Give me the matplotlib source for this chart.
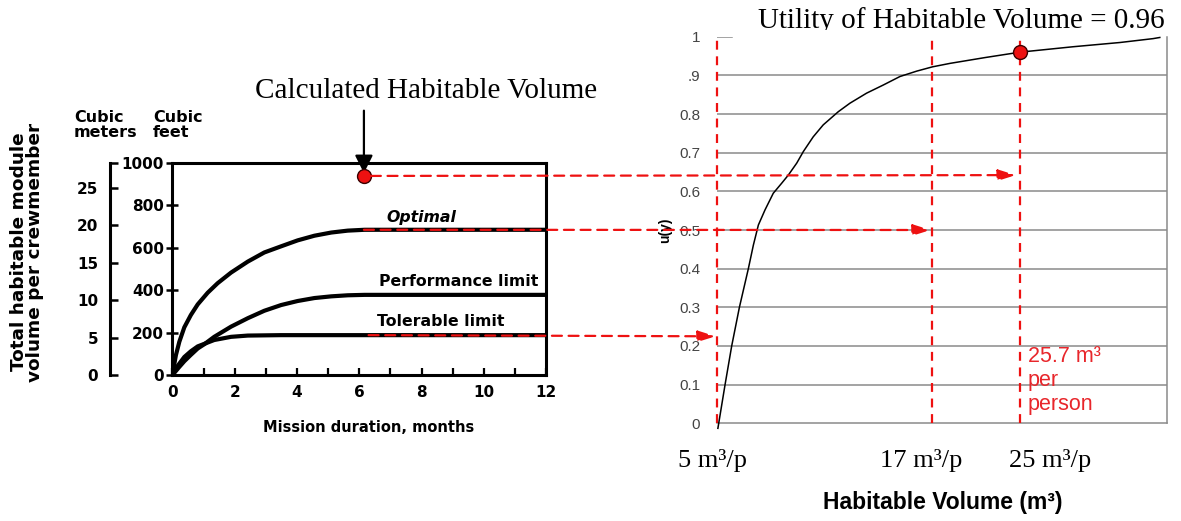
import numpy as np
import matplotlib
matplotlib.use("Agg")
import matplotlib.pyplot as plt
from matplotlib.patches import ConnectionPatch, Rectangle
from matplotlib.ticker import MultipleLocator

# ---------------- data ----------------
# Left panel: habitable volume guidelines (cubic feet per crewmember vs mission months)
opt_months = [0, 0.05, 0.11, 0.22, 0.38, 0.59, 0.81, 1.13, 1.45, 1.88, 2.42, 2.95, 3.49,
              4.02, 4.56, 5.10, 5.63, 6.17, 12]
opt_ft3 = [0, 45, 94, 157, 225, 283, 333, 388, 433, 483, 535, 578, 607, 635, 657, 672, 681, 685, 685]
perf_months = [0, 0.2, 0.38, 0.59, 0.81, 1.02, 1.34, 1.88, 2.42, 2.95, 3.49, 4.02, 4.56, 5.10,
               5.63, 6.17, 12]
perf_ft3 = [0, 35, 65, 95, 125, 145, 180, 228, 268, 303, 330, 349, 363, 371, 376, 378, 378]
tol_months = [0, 0.15, 0.38, 0.59, 0.81, 1.34, 1.88, 2.42, 3.49, 6.0, 12]
tol_ft3 = [0, 40, 85, 112, 135, 165, 180, 186, 188, 188, 188]

month_ticks = [0, 2, 4, 6, 8, 10, 12]
ft3_ticks = [0, 200, 400, 600, 800, 1000]
m3_ticks = [0, 5, 10, 15, 20, 25]
m3_per_ft3 = 0.0283168

curve_labels = ["Optimal", "Performance limit", "Tolerable limit"]
curve_label_months = [8.0, 9.19, 8.61]
curve_label_ft3 = [745, 439, 250]

calc_month = 6.15
calc_ft3 = 939

# Right panel: utility of habitable volume
util_vol = [5.05, 5.45, 5.82, 6.25, 6.75, 7.03, 7.31, 7.68, 8.14, 8.61, 8.98, 9.45, 9.82,
            10.37, 10.93, 11.77, 12.42, 13.35, 14.28, 15.21, 16.15, 17.04, 18.78, 22.24,
            25.7, 30.86, 35.43, 38.64, 39.3]
util_val = [-0.013, 0.1, 0.2, 0.3, 0.4, 0.461, 0.513, 0.552, 0.595, 0.621, 0.642, 0.673, 0.703,
            0.741, 0.772, 0.806, 0.828, 0.854, 0.875, 0.897, 0.911, 0.922, 0.931, 0.946,
            0.96, 0.974, 0.985, 0.995, 0.998]
util_ticks = [0, 0.1, 0.2, 0.3, 0.4, 0.5, 0.6, 0.7, 0.8, 0.9, 1.0]
util_ticklabels = ["0", "0.1", "0.2", "0.3", "0.4", "0.5", "0.6", "0.7", "0.8", ".9", "1"]
marker_vols = [5, 17, 25.7]
marker_labels = ["5 m³/p", "17 m³/p", "25 m³/p"]
marker_label_vols = [5, 17, 25]
calc_vol = 25.7
calc_util = 0.96

# non-uniform horizontal axis of the sketch (volume -> axis fraction)
axis_vol = [5, 17, 25.7, 40]
axis_frac = [0, 0.4778, 0.6733, 1.0]

# links from left panel to right panel
link_from_month = [6.15, 6.15, 6.3]
link_from_ft3 = [939, 685, 188]
link_to_vol = [25.7, 17, 5]
link_to_util = [0.642, 0.5, 0.225]

# ---------------- styling ----------------
W, H = 1181, 521
RED = "#ee1111"
RED_TXT = "#e8262b"
GRID = "#8a8a8a"
SERIF = "Liberation Serif"
ARIAL = "Liberation Sans"
plt.rcParams["font.family"] = "DejaVu Sans"

fig = plt.figure(figsize=(W / 100, H / 100), dpi=100)
fig.patch.set_facecolor("white")

def fx(px):
    return px / W

def fy(py):
    return 1 - py / H

# ---------------- left panel ----------------
axL = fig.add_axes([fx(172.5), fy(375), 373.5 / W, 212 / H])
for mx, vy in [(opt_months, opt_ft3), (perf_months, perf_ft3), (tol_months, tol_ft3)]:
    axL.plot(mx, vy, color="black", lw=3.0, solid_capstyle="round", solid_joinstyle="round")
axL.set_xlim(0, 12)
axL.set_ylim(0, 1000)
for s in axL.spines.values():
    s.set_linewidth(2.2)
axL.set_xticks(month_ticks)
axL.xaxis.set_minor_locator(MultipleLocator(1))
axL.tick_params(axis="x", which="both", direction="in", length=5, width=1.6, pad=7, labelsize=11)
axL.set_yticks(ft3_ticks)
axL.tick_params(axis="y", direction="inout", length=8, width=1.8, pad=2, labelsize=11)
for lbl in axL.get_xticklabels() + axL.get_yticklabels():
    lbl.set_fontweight("bold")

secL = axL.secondary_yaxis(-62 / 373.5, functions=(lambda v: v * m3_per_ft3, lambda v: v / m3_per_ft3))
secL.set_yticks(m3_ticks + [1000 * m3_per_ft3], labels=[str(t) for t in m3_ticks] + [""])
secL.tick_params(direction="in", length=6, width=1.8, pad=9, labelsize=11)
for s in secL.spines.values():
    s.set_linewidth(2.2)
for lbl in secL.get_yticklabels():
    lbl.set_fontweight("bold")

for lab, m, v in zip(curve_labels, curve_label_months, curve_label_ft3):
    axL.text(m, v, lab, ha="center", va="center", fontsize=11.3, fontweight="bold",
             fontstyle="italic" if lab == "Optimal" else "normal")

axL.set_xlabel("Mission duration, months", fontsize=10.5, fontweight="bold")
axL.xaxis.set_label_coords((369 - 172.5) / 373.5, (375 - 420) / 212)

fig.text(fx(27), fy(252), "Total habitable module\nvolume per crewmember", rotation=90,
         ha="center", va="center", fontsize=13.3, fontweight="bold", linespacing=0.9)
fig.text(fx(74), fy(110), "Cubic\nmeters", ha="left", va="top", fontsize=11.5,
         fontweight="bold", linespacing=1.0)
fig.text(fx(153), fy(110), "Cubic\nfeet", ha="left", va="top", fontsize=11.5,
         fontweight="bold", linespacing=1.0)

axL.plot(calc_month, calc_ft3, "o", ms=10, mfc=RED, mec="#3a0000", mew=1.0, zorder=6, clip_on=False)
axL.annotate("", xy=(calc_month, calc_ft3), xytext=(0, 47), textcoords="offset points",
             arrowprops=dict(arrowstyle="-|>,head_length=0.9,head_width=0.45", mutation_scale=12,
                             color="black", lw=1.6, shrinkA=0, shrinkB=2), annotation_clip=False)
fig.text(fx(426), fy(91), "Calculated Habitable Volume", ha="center", va="center",
         fontsize=21, family=SERIF)

# ---------------- right panel ----------------
def fwd(v):
    return np.interp(np.asarray(v, dtype=float), axis_vol, axis_frac)

def inv(p):
    return np.interp(np.asarray(p, dtype=float), axis_frac, axis_vol)

axR = fig.add_axes([fx(717), fy(423.3), 450 / W, 386.6 / H])
axR.set_xscale("function", functions=(fwd, inv))
axR.set_xlim(axis_vol[0], axis_vol[-1])
axR.set_ylim(0, 1)
axR.hlines(util_ticks[1:-1], axis_vol[0], axis_vol[-1], color=GRID, lw=1.1, zorder=1)
axR.axhline(1.0, xmin=0, xmax=15 / 450, color=GRID, lw=1.1)
axR.spines["top"].set_visible(False)
axR.spines["left"].set_visible(False)
for side in ["right", "bottom"]:
    axR.spines[side].set_color(GRID)
    axR.spines[side].set_linewidth(1.1)
axR.set_xticks([])
axR.set_yticks(util_ticks, labels=util_ticklabels)
axR.tick_params(axis="y", length=0, pad=12, labelsize=11, labelcolor="#444444")
for lbl in axR.get_yticklabels():
    lbl.set_family(ARIAL)
axR.set_ylabel("u(y)", fontsize=10, fontweight="bold", family=ARIAL)
axR.yaxis.set_label_coords((672 - 717) / 450, 0.5)

axR.plot(util_vol, util_val, color="black", lw=1.1, clip_on=False, zorder=4,
         solid_joinstyle="round")
for v in marker_vols:
    axR.axvline(v, color=RED, lw=1.6, ls=(0, (4, 3)), clip_on=False, zorder=3)
axR.plot(calc_vol, calc_util, "o", ms=10, mfc=RED, mec="#3a0000", mew=1.0, zorder=6, clip_on=False)

label_dx = [-5, -11, 37]
for v, lab, dx in zip(marker_label_vols, marker_labels, label_dx):
    axR.annotate(lab, xy=(v, 0), xycoords=("data", "axes fraction"), xytext=(dx, -37),
                 textcoords="offset pixels", ha="center", va="center", fontsize=19,
                 family=SERIF, annotation_clip=False)

fig.text(fx(943), fy(503), "Habitable Volume (m³)", ha="center", va="center",
         fontsize=16.5, fontweight="bold", family=ARIAL)
fig.text(fx(1028), fy(346), "25.7 m³\nper\nperson", ha="left", va="top", color=RED_TXT,
         fontsize=15.5, family=ARIAL, linespacing=1.2)

fig.text(fx(1165), fy(28), "Utility of Habitable Volume = 0.96", ha="right",
         va="baseline", fontsize=21, family=SERIF, zorder=3)
# the title is cut off just below its baseline in the source image
fig.add_artist(Rectangle((fx(745), fy(36.2)), fx(1178) - fx(745), fy(30.5) - fy(36.2),
                         transform=fig.transFigure, facecolor="white", edgecolor="none", zorder=4))

# ---------------- links ----------------
for m, f, v, u in zip(link_from_month, link_from_ft3, link_to_vol, link_to_util):
    con = ConnectionPatch(xyA=(m, f), coordsA=axL.transData, xyB=(v, u), coordsB=axR.transData,
                          arrowstyle="-|>,head_length=0.7,head_width=0.22", mutation_scale=15,
                          color=RED, lw=1.6, linestyle=(0, (4.5, 3)),
                          shrinkA=5 if f == calc_ft3 else 0,
                          shrinkB=3 if v == calc_vol else 1, zorder=5)
    fig.add_artist(con)

fig.savefig("out.png", dpi=100, facecolor="white")
